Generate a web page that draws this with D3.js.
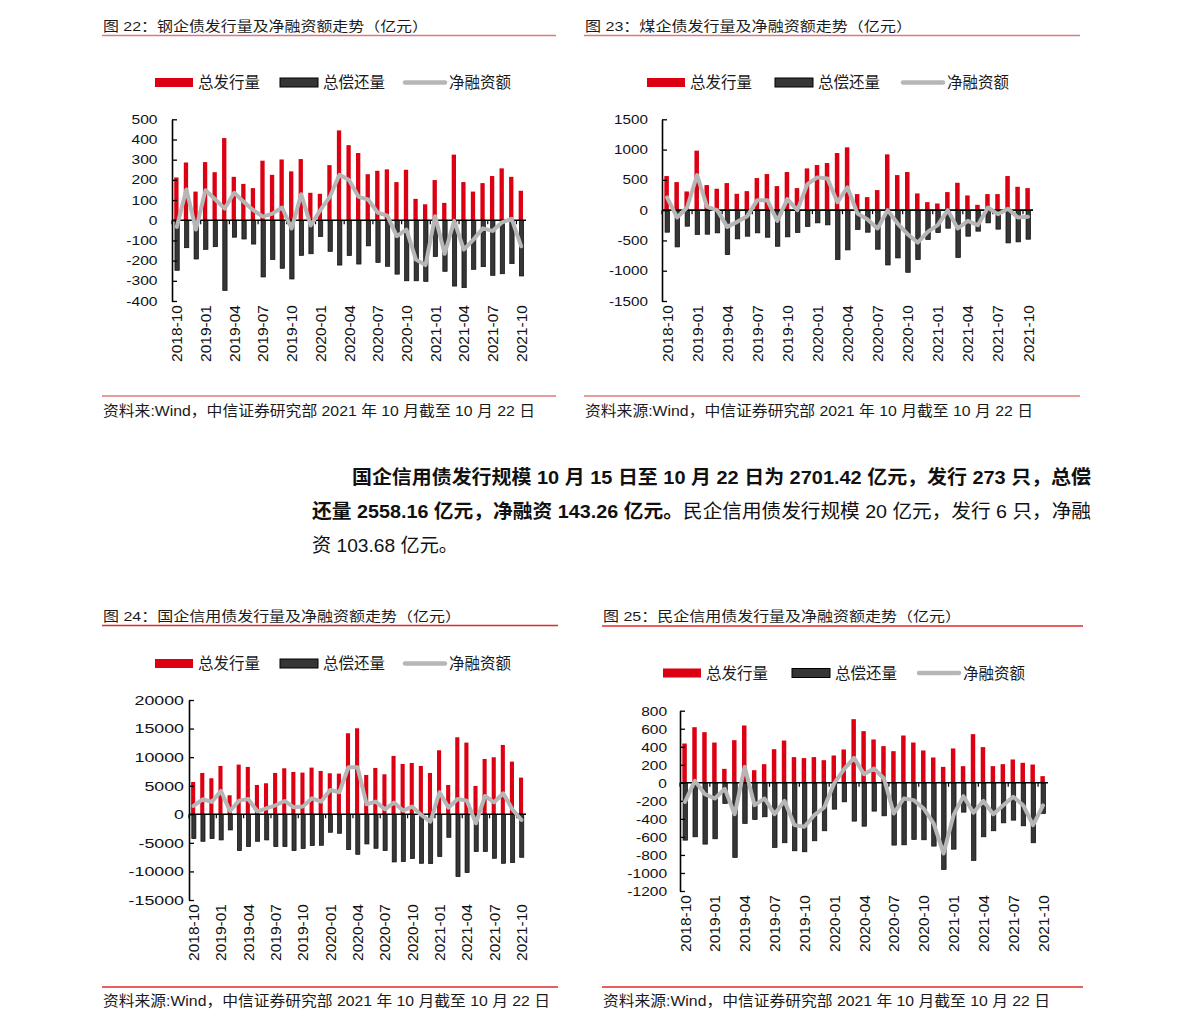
<!DOCTYPE html>
<html><head><meta charset="utf-8">
<script src="https://cdn.jsdelivr.net/npm/d3@7"></script>
<style>
body{margin:0;background:#fff}
svg text{font-family:'Liberation Sans',Arial,'Noto Sans CJK SC',sans-serif}
</style>
</head><body>
<svg id="c" width="1191" height="1028"></svg>
<script>
// ---------- data ----------
const months = ["2018-10","2018-11","2018-12","2019-01","2019-02","2019-03","2019-04","2019-05","2019-06","2019-07","2019-08","2019-09","2019-10","2019-11","2019-12","2020-01","2020-02","2020-03","2020-04","2020-05","2020-06","2020-07","2020-08","2020-09","2020-10","2020-11","2020-12","2021-01","2021-02","2021-03","2021-04","2021-05","2021-06","2021-07","2021-08","2021-09","2021-10"];
const seriesNames = ["总发行量","总偿还量","净融资额"];

const steelIssue = [212,286,142,288,238,407,215,180,159,295,225,301,242,303,136,131,273,445,372,333,228,245,252,189,250,106,79,199,86,325,189,142,184,219,257,215,146];
const steelRepay = [-248,-136,-192,-144,-131,-348,-84,-93,-118,-281,-195,-238,-291,-174,-166,-81,-154,-222,-175,-217,-127,-209,-228,-267,-300,-300,-303,-180,-253,-326,-334,-243,-230,-273,-265,-215,-276];
const steelNet = [-33,152,-46,149,104,58,136,91,50,18,33,63,-41,129,-26,50,116,225,199,116,103,38,23,-79,-46,-195,-222,20,-166,-3,-146,-96,-40,-53,-10,7,-129];
const steelTicks = [-400,-300,-200,-100,0,100,200,300,400,500];

const coalIssue = [563,463,309,982,414,353,447,270,314,530,596,397,629,364,689,745,778,943,1037,265,215,331,921,579,629,276,132,110,298,452,243,88,265,265,563,386,364];
const coalRepay = [-364,-607,-265,-403,-397,-375,-734,-474,-430,-375,-447,-596,-441,-370,-270,-210,-243,-816,-656,-320,-364,-645,-905,-789,-1026,-816,-485,-370,-298,-783,-430,-347,-210,-314,-541,-524,-480];
const coalNet = [210,-121,44,579,55,0,-276,-193,-99,165,165,-177,182,0,430,541,524,132,375,-55,-154,-303,0,-221,-397,-535,-359,-248,0,-303,-177,-248,44,-66,22,-121,-110];
const coalTicks = [-1500,-1000,-500,0,500,1000,1500];

const soeIssue = [5659,7234,6300,8460,3325,8693,8285,5134,5426,7234,8051,7409,7293,8168,7585,7176,7118,14177,15052,6884,8110,7001,10210,8810,8985,8460,7234,11202,5134,13477,12544,4959,9685,9977,12135,9218,6418];
const soeRepay = [-4259,-4726,-4259,-4492,-2742,-6359,-5659,-4726,-4492,-5659,-5659,-6359,-6009,-5484,-5426,-3150,-3325,-6184,-7001,-5193,-5951,-6359,-8343,-8285,-7759,-8576,-8635,-7409,-4026,-10910,-10210,-6534,-6534,-7701,-8576,-8460,-7526];
const soeNet = [1459,2625,2159,4084,583,2392,2684,525,1050,1575,2334,1225,1342,2800,2217,4259,3851,8226,8226,1750,2217,875,2042,642,1342,-117,-1284,3851,1167,2684,2392,-1575,3209,2100,3676,875,-992];
const soeTicks = [-15000,-10000,-5000,0,5000,10000,15000,20000];

const poeIssue = [436,617,562,447,155,473,636,140,207,373,469,285,274,285,251,303,370,706,573,481,407,351,525,447,359,281,177,381,185,540,396,185,207,259,222,203,74];
const poeRepay = [-636,-599,-680,-621,-229,-828,-451,-407,-377,-717,-665,-754,-765,-643,-532,-292,-211,-425,-481,-314,-366,-691,-688,-628,-632,-702,-961,-736,-325,-861,-599,-532,-444,-414,-477,-665,-340];
const poeNet = [-211,22,-126,-174,-67,-348,177,-248,-174,-348,-200,-469,-488,-359,-274,-7,152,277,96,159,48,-340,-174,-192,-285,-451,-784,-359,-148,-333,-200,-348,-248,-155,-248,-469,-251];
const poeTicks = [-1200,-1000,-800,-600,-400,-200,0,200,400,600,800];

const titles = ["图 22：钢企债发行量及净融资额走势（亿元）","图 23：煤企债发行量及净融资额走势（亿元）","图 24：国企信用债发行量及净融资额走势（亿元）","图 25：民企信用债发行量及净融资额走势（亿元）"];
const footers = ["资料来:Wind，中信证券研究部 2021 年 10 月截至 10 月 22 日","资料来源:Wind，中信证券研究部 2021 年 10 月截至 10 月 22 日","资料来源:Wind，中信证券研究部 2021 年 10 月截至 10 月 22 日","资料来源:Wind，中信证券研究部 2021 年 10 月截至 10 月 22 日"];
const paraLines = ["国企信用债发行规模 10 月 15 日至 10 月 22 日为 2701.42 亿元，发行 273 只，总偿","还量 2558.16 亿元，净融资 143.26 亿元。","民企信用债发行规模 20 亿元，发行 6 只，净融","资 103.68 亿元。"];

// ---------- drawing ----------
const svg = d3.select("#c");
const RED = "#dc0012", DARK = "#363636", GRAY = "#b6b6b6", TXT = "#1a1a1a";

function drawPanel(p){
  const g = svg.append("g");
  // title + rule
  g.append("text").attr("x",p.titleX).attr("y",p.titleY).attr("font-size",13.5).attr("fill",TXT)
    .attr("textLength",p.titleW).attr("lengthAdjust","spacingAndGlyphs").text(p.title);
  g.append("line").attr("x1",p.ruleX1).attr("x2",p.ruleX2).attr("y1",p.ruleY).attr("y2",p.ruleY)
    .attr("stroke",p.ruleColor).attr("stroke-width",1.3);

  // legend
  const ly = p.legY;
  g.append("rect").attr("x",p.legX[0]).attr("y",ly-4.5).attr("width",38).attr("height",9).attr("fill",RED);
  g.append("rect").attr("x",p.legX[1]).attr("y",ly-4.5).attr("width",38).attr("height",9).attr("fill",DARK).attr("stroke","#000").attr("stroke-width",1);
  g.append("line").attr("x1",p.legX[2]).attr("x2",p.legX[2]+40).attr("y1",ly).attr("y2",ly).attr("stroke",GRAY).attr("stroke-width",4.5).attr("stroke-linecap","round");
  seriesNames.forEach((n,i)=>{
    g.append("text").attr("x",p.legX[i]+(i==2?44:43)).attr("y",ly).attr("dy","0.36em").attr("font-size",15.5).attr("fill",TXT).text(n);
  });

  // scales
  const x = d3.scaleBand().domain(months).range([p.axisX,p.right]);
  const y = d3.scaleLinear().domain([p.yMin,p.yMax]).range([p.yBot,p.yTop]);
  const band = x.bandwidth();
  const bw = band*0.45;
  const cx = i => x(months[i]) + band/2;

  g.append("g").selectAll("rect").data(p.issue).join("rect")
    .attr("x",(d,i)=>cx(i)-bw/2-0.4).attr("width",bw)
    .attr("y",d=>y(Math.max(0,d))).attr("height",d=>Math.abs(y(d)-y(0)))
    .attr("fill",RED);
  g.append("g").selectAll("rect").data(p.repay).join("rect")
    .attr("x",(d,i)=>cx(i)-bw/2+0.3).attr("width",bw)
    .attr("y",d=>y(Math.max(0,d))).attr("height",d=>Math.abs(y(d)-y(0)))
    .attr("fill",DARK).attr("stroke","#0a0a0a").attr("stroke-width",0.7);

  // y axis
  const ax = d3.axisLeft(y).tickValues(p.ticks).tickSize(-5).tickSizeOuter(0).tickPadding(p.gap).tickFormat(d=>String(d));
  const ag = g.append("g").attr("transform",`translate(${p.axisX},0)`).call(ax);
  ag.select(".domain").attr("stroke","#000").attr("stroke-width",1.6);
  ag.selectAll(".tick line").attr("stroke","#000").attr("stroke-width",1.3);
  ag.selectAll(".tick text").attr("font-size",p.tickFont).attr("fill","#111")
    .attr("x",-p.gap/p.sx).attr("transform",`scale(${p.sx},1)`);

  // zero line + small category ticks
  const y0 = y(0);
  g.append("line").attr("x1",p.axisX).attr("x2",p.right).attr("y1",y0).attr("y2",y0).attr("stroke","#000").attr("stroke-width",1.6);
  g.append("g").selectAll("line").data(months.filter((m,i)=>i%3===0)).join("line")
    .attr("x1",d=>x(d)).attr("x2",d=>x(d)).attr("y1",y0).attr("y2",y0+4)
    .attr("stroke","#000").attr("stroke-width",1.2);

  // net line
  const line = d3.line().x((d,i)=>cx(i)).y(d=>y(d));
  g.append("path").attr("d",line(p.net)).attr("fill","none").attr("stroke",GRAY)
    .attr("stroke-width",4).attr("stroke-linejoin","round").attr("stroke-linecap","round");

  // x labels
  g.append("g").selectAll("text").data(months.map((m,i)=>({m,i})).filter(d=>d.i%3===0)).join("text")
    .attr("transform",d=>`translate(${cx(d.i)},${p.yBot+4}) rotate(-90)`)
    .attr("text-anchor","end").attr("dy","0.36em").attr("font-size",15.5).attr("fill","#111")
    .text(d=>d.m);

  // footer
  g.append("line").attr("x1",p.ruleX1).attr("x2",p.ruleX2).attr("y1",p.footRuleY).attr("y2",p.footRuleY)
    .attr("stroke",p.ruleColor).attr("stroke-width",1.3);
  g.append("text").attr("x",p.footX).attr("y",p.footY).attr("font-size",15).attr("fill",TXT)
    .attr("textLength",p.footW).attr("lengthAdjust","spacingAndGlyphs").text(p.footer);
}

drawPanel({title:titles[0],titleX:103,titleY:30.5,titleW:325,ruleX1:102,ruleX2:556,ruleY:35.5,ruleColor:"#e07878",
  legY:82.5,legX:[155,280,405],axisX:172,right:526,yMin:-400,yMax:500,yTop:119.3,yBot:301,ticks:steelTicks,
  gap:14.5,tickFont:12.5,sx:1.25,issue:steelIssue,repay:steelRepay,net:steelNet,
  footRuleY:396,footer:footers[0],footX:103,footY:415.5,footW:432});

drawPanel({title:titles[1],titleX:585,titleY:30.5,titleW:327,ruleX1:584,ruleX2:1080,ruleY:35.5,ruleColor:"#e07878",
  legY:82.5,legX:[647,775,903],axisX:662,right:1033,yMin:-1500,yMax:1500,yTop:119.3,yBot:301,ticks:coalTicks,
  gap:14,tickFont:12.5,sx:1.22,issue:coalIssue,repay:coalRepay,net:coalNet,
  footRuleY:396,footer:footers[1],footX:585,footY:415.5,footW:448});

drawPanel({title:titles[2],titleX:103,titleY:620.5,titleW:358,ruleX1:102,ruleX2:558,ruleY:625.5,ruleColor:"#e02a2a",
  legY:663.5,legX:[155,280,405],axisX:189,right:526,yMin:-15000,yMax:20000,yTop:700,yBot:900,ticks:soeTicks,
  gap:5,tickFont:13.5,sx:1.32,issue:soeIssue,repay:soeRepay,net:soeNet,
  footRuleY:987,footer:footers[2],footX:103,footY:1006,footW:447});

drawPanel({title:titles[3],titleX:603,titleY:620.5,titleW:358,ruleX1:602,ruleX2:1083,ruleY:626,ruleColor:"#e02a2a",
  legY:673,legX:[663,792,919],axisX:680,right:1048,yMin:-1200,yMax:800,yTop:710.7,yBot:891,ticks:poeTicks,
  gap:13,tickFont:13.5,sx:1.15,issue:poeIssue,repay:poeRepay,net:poeNet,
  footRuleY:987,footer:footers[3],footX:603,footY:1006,footW:447});

// paragraph
const para = [
  {t:paraLines[0],x:352,y:484,w:739,b:true},
  {t:paraLines[1],x:312,y:518,w:371,b:true},
  {t:paraLines[2],x:683,y:518,w:408,b:false},
  {t:paraLines[3],x:312,y:552,w:146,b:false}
];
svg.append("g").selectAll("text").data(para).join("text")
  .attr("x",d=>d.x).attr("y",d=>d.y).attr("font-size",19).attr("fill","#111")
  .attr("font-weight",d=>d.b?"bold":"normal")
  .attr("textLength",d=>d.w).attr("lengthAdjust","spacingAndGlyphs")
  .text(d=>d.t);
</script>
</body></html>
